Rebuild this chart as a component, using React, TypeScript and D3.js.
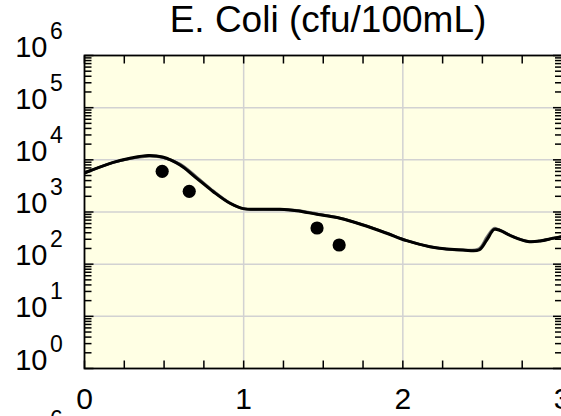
import React from "react";
import * as d3 from "d3";

const title = "E. Coli (cfu/100mL)";
const xTickLabels = [0, 1, 2, 3];
const yDecades = [0, 1, 2, 3, 4, 5, 6];

// model output (time, cfu/100mL)
const modelX = [0, 0.035, 0.181, 0.286, 0.4, 0.49, 0.6, 0.705, 0.809, 0.914, 0.998, 1.123, 1.228, 1.332, 1.459, 1.605, 1.75, 1.899, 2.024, 2.17, 2.275, 2.378, 2.478, 2.527, 2.573, 2.604, 2.692, 2.786, 2.862, 2.943, 3.0];
const modelBlack = [5590, 6180, 8960, 10700, 12100, 11300, 7960, 4420, 2450, 1470, 1160, 1130, 1130, 1060, 903, 757, 563, 391, 282, 216, 195, 187, 187, 290, 462, 452, 336, 272, 278, 313, 339];
const modelGray1 = [5590, 6150, 8900, 10500, 11600, 11100, 8400, 4700, 2550, 1500, 1160, 1120, 1120, 1080, 930, 770, 570, 395, 284, 217, 195, 187, 200, 330, 490, 460, 340, 274, 278, 312, 338];
const modelGray2 = [5590, 6170, 8930, 10600, 11900, 11200, 8200, 4600, 2500, 1480, 1150, 1125, 1110, 1070, 915, 762, 566, 393, 283, 216, 194, 186, 193, 310, 475, 456, 338, 273, 278, 312, 338];

// observations
const obsX = [0.488, 0.658, 1.461, 1.6];
const obsY = [6030, 2490, 493, 233];

const W = 561;
const H = 416;
const L = 84.5;
const R = 562;
const T = 55.5;
const B = 368.5;

export default function App() {
  const x = d3.scaleLinear().domain([0, 3]).range([L, R]);
  const y = d3.scaleLog().domain([1, 1e6]).range([B, T]);

  const line = (vals: number[]) =>
    d3
      .line<number>()
      .x((_, i) => x(modelX[i]))
      .y((v) => y(v))
      .curve(d3.curveCatmullRom.alpha(0.5))(vals) || "";

  const xTicks = d3.range(0, 13).map((i) => i * 0.25);
  const minor: number[] = [];
  for (let k = 0; k < 6; k++) for (let m = 2; m <= 9; m++) minor.push(m * Math.pow(10, k));

  const font = "Arial, 'Liberation Sans', Helvetica, sans-serif";

  return (
    <svg width={W} height={H} style={{ position: "absolute", left: 0, top: 0, background: "#fff" }} fontFamily={font}>
      <defs>
        <clipPath id="plot">
          <rect x={L} y={T} width={R - L} height={B - T} />
        </clipPath>
      </defs>
      <rect x={L} y={T} width={R - L} height={B - T} fill="#FFFFE4" />
      {/* grid */}
      {[1, 2].map((v) => (
        <line key={"gx" + v} x1={x(v)} x2={x(v)} y1={T} y2={B} stroke="#D2D2D2" strokeWidth={1.5} />
      ))}
      {yDecades.slice(1, 6).map((d) => (
        <line key={"gy" + d} x1={L} x2={R} y1={y(Math.pow(10, d))} y2={y(Math.pow(10, d))} stroke="#D2D2D2" strokeWidth={1.5} />
      ))}
      {/* model lines */}
      <g clipPath="url(#plot)" fill="none" strokeLinejoin="round" strokeLinecap="round">
        <path d={line(modelGray1)} stroke="#808080" strokeWidth={2.5} />
        <path d={line(modelGray2)} stroke="#5a5a5a" strokeWidth={2.5} />
        <path d={line(modelBlack)} stroke="#000" strokeWidth={3} />
      </g>
      {/* observations */}
      {obsX.map((v, i) => (
        <circle key={"o" + i} cx={x(v)} cy={y(obsY[i])} r={6.6} fill="#000" />
      ))}
      {/* ticks */}
      <g stroke="#000" strokeWidth={1.5}>
        {xTicks.map((v) => (
          <g key={"xt" + v}>
            <line x1={x(v)} x2={x(v)} y1={B} y2={B - 8} />
            <line x1={x(v)} x2={x(v)} y1={T} y2={T + 8} />
          </g>
        ))}
        {yDecades.map((d) => (
          <g key={"ytM" + d}>
            <line x1={L} x2={L + 9} y1={y(Math.pow(10, d))} y2={y(Math.pow(10, d))} />
            <line x1={R} x2={R - 9} y1={y(Math.pow(10, d))} y2={y(Math.pow(10, d))} />
          </g>
        ))}
        {minor.map((v) => (
          <g key={"ytm" + v}>
            <line x1={L} x2={L + 7} y1={y(v)} y2={y(v)} />
            <line x1={R} x2={R - 7} y1={y(v)} y2={y(v)} />
          </g>
        ))}
      </g>
      <rect x={L} y={T} width={R - L} height={B - T} fill="none" stroke="#000" strokeWidth={1.8} />
      {/* labels */}
      {xTickLabels.map((v) => (
        <text key={"xl" + v} x={x(v)} y={409} fontSize={30} textAnchor="middle" fill="#000">
          {v}
        </text>
      ))}
      {yDecades.map((d) => (
        <g key={"yl" + d}>
          <text x={47.5} y={y(Math.pow(10, d)) + 1} fontSize={29} textAnchor="end" fill="#000">
            10
          </text>
          <text x={50} y={y(Math.pow(10, d)) - 17} fontSize={23} fill="#000">
            {d}
          </text>
        </g>
      ))}
      {/* exponent of the next panel's top label, cut by the frame */}
      <text x={50} y={427} fontSize={23} fill="#000">
        6
      </text>
      <text x={328} y={32} fontSize={37} textAnchor="middle" fill="#000">
        {title}
      </text>
    </svg>
  );
}
